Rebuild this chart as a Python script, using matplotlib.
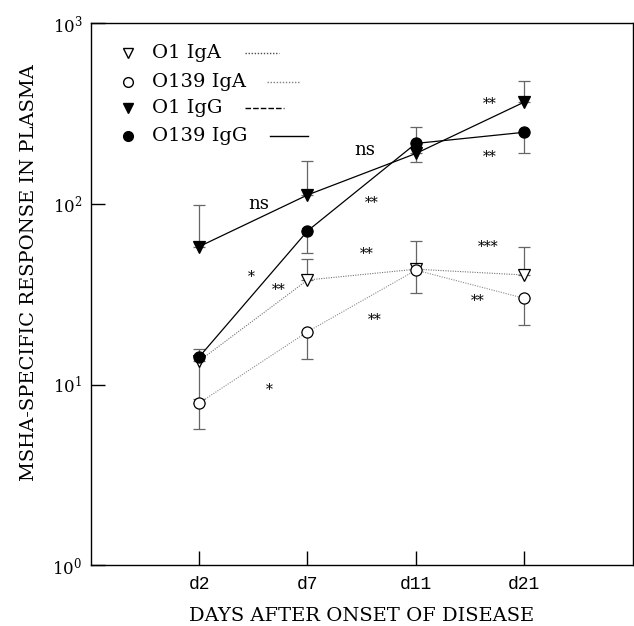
import numpy as np
import matplotlib.pyplot as plt

plt.rcParams['font.family'] = ['DejaVu Serif']
plt.rcParams['mathtext.fontset'] = 'dejavuserif'

days = ["d2", "d7", "d11", "d21"]
x = [1, 2, 3, 4]

# geometric means
o1_iga = [13.5, 37.9, 43.5, 40.4]
o139_iga = [7.9, 19.6, 43.0, 30.0]
o1_igg = [58.0, 112.0, 190.0, 366.0]
o139_igg = [14.2, 70.8, 216.0, 249.0]

# error bar ends (one-sided in the original)
o1_iga_lo = [8.3, 37.9, 43.5, 40.4]
o1_iga_hi = [13.5, 49.4, 62.0, 58.0]
o139_iga_lo = [5.7, 13.8, 32.0, 21.4]
o139_iga_hi = [7.9, 19.6, 43.0, 30.0]
o1_igg_lo = [58.0, 112.0, 171.0, 366.0]
o1_igg_hi = [99.0, 173.0, 190.0, 480.0]
o139_igg_lo = [14.2, 53.5, 216.0, 190.0]
o139_igg_hi = [15.7, 70.8, 267.0, 249.0]

# significance marks
sig_text = ["ns", "ns", "**", "**", "*", "**", "**", "*", "**", "***", "**", "**"]
sig_x = [1.55, 2.53, 2.59, 2.55, 1.48, 1.73, 2.62, 1.65, 3.57, 3.67, 3.68, 3.68]
sig_y = [100, 199, 106, 56, 41.6, 35.3, 24.1, 9.86, 30.5, 60.6, 375, 191]

fig = plt.figure(figsize=(6.34, 6.26), dpi=100)
ax = fig.add_axes([0.143, 0.097, 0.855, 0.866])


def draw(vals, lo, hi, marker, face, ls, lc, lw):
    vals = np.array(vals)
    err = [vals - np.array(lo), np.array(hi) - vals]
    ax.errorbar(x, vals, yerr=err, fmt="none", ecolor="0.4", elinewidth=0.9,
                capsize=4, capthick=0.9, zorder=2)
    ax.plot(x, vals, linestyle=ls, color=lc, linewidth=lw, zorder=3)
    ax.plot(x, vals, linestyle="none", marker=marker, markersize=8,
            markerfacecolor=face, markeredgecolor="black", markeredgewidth=0.9, zorder=4)


draw(o1_iga, o1_iga_lo, o1_iga_hi, "v", "white", (0, (1, 1.2)), "0.45", 0.8)
draw(o139_iga, o139_iga_lo, o139_iga_hi, "o", "white", (0, (1, 1.2)), "0.55", 0.8)
draw(o1_igg, o1_igg_lo, o1_igg_hi, "v", "black", "-", "black", 0.9)
draw(o139_igg, o139_igg_lo, o139_igg_hi, "o", "black", "-", "black", 0.9)

for t, sx, sy in zip(sig_text, sig_x, sig_y):
    if t == "ns":
        ax.text(sx, sy, t, fontsize=13, ha="center", va="center")
    else:
        # asterisks sit high in the em box, nudge them down onto the point
        ax.annotate(t, (sx, sy), xytext=(0, -3), textcoords="offset points",
                    fontsize=10, ha="center", va="center")

ax.set_yscale("log")
ax.set_ylim(1, 1000)
ax.set_xlim(0, 5)
ax.set_yticks([1, 10, 100, 1000])
ax.set_yticklabels([r"$10^0$", r"$10^1$", r"$10^2$", r"$10^3$"])
ax.minorticks_off()
ax.set_xticks(x)
ax.set_xticklabels(days, family="Liberation Mono")
ax.tick_params(direction="in", length=10, width=1, labelsize=13, pad=8)
ax.tick_params(axis="y", pad=6, labelsize=12)
for s in ax.spines.values():
    s.set_linewidth(1)

ax.set_xlabel("DAYS AFTER ONSET OF DISEASE", fontsize=14, labelpad=10)
ax.set_ylabel("MSHA-SPECIFIC RESPONSE IN PLASMA", fontsize=14)
ax.yaxis.set_label_coords(-0.097, 0.54)

# legend: marker, label, then line sample
leg_names = ["O1 IgA", "O139 IgA", "O1 IgG", "O139 IgG"]
leg_marker = ["v", "o", "v", "o"]
leg_face = ["white", "white", "black", "black"]
leg_ls = [(0, (1, 1.2)), (0, (1, 1.2)), (0, (4, 1.5)), "-"]
leg_lc = ["0.3", "0.5", "black", "black"]
leg_y = [0.945, 0.892, 0.843, 0.791]
leg_x0 = [0.285, 0.325, 0.285, 0.331]
leg_x1 = [0.347, 0.385, 0.357, 0.401]
for i in range(4):
    ax.plot([0.069], [leg_y[i]], marker=leg_marker[i], markersize=7,
            markerfacecolor=leg_face[i], markeredgecolor="black",
            linestyle="none", transform=ax.transAxes)
    ax.text(0.114, leg_y[i], leg_names[i], fontsize=14, va="center",
            transform=ax.transAxes)
    ax.plot([leg_x0[i], leg_x1[i]], [leg_y[i], leg_y[i]], linestyle=leg_ls[i],
            color=leg_lc[i], linewidth=1, transform=ax.transAxes)

fig.savefig("out.png", dpi=100)
